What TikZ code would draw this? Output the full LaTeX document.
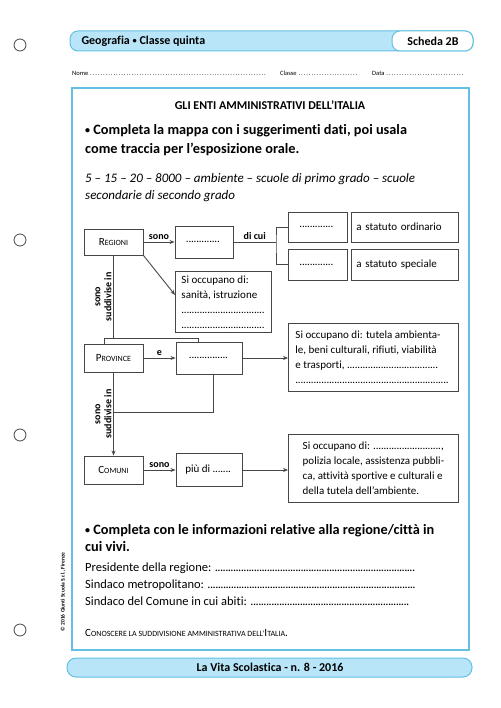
\documentclass[tikz,border=0pt]{standalone}
\usepackage{fontspec}
\setmainfont{Carlito}[Ligatures = NoCommon]
\usetikzlibrary{arrows.meta}

\definecolor{bordo}{RGB}{100,192,226}
\definecolor{fascia}{RGB}{184,229,248}
\definecolor{linea}{RGB}{70,70,70}

\newcommand\puntini[1]{\makebox[#1]{\leaders\hbox to 2.6pt{\hss.\hss}\hfill}}
\newcommand\pallino{\raisebox{0.1ex}{\scalebox{0.7}{•}}}

\tikzset{
	box/.style = {draw = linea, line width = 0.9pt, inner xsep = 5pt, inner ysep = 0pt, minimum height = 28pt},
	testo/.style = {box, align = left, font = \fontsize{11}{15}\selectfont},
	freccia/.style = {-{Stealth[length = 5pt, width = 4pt]}, draw = linea, line width = 0.9pt},
	filo/.style = {draw = linea, line width = 0.9pt},
	etichetta/.style = {font = \fontsize{10}{11}\selectfont\bfseries, inner sep = 1.5pt}
}

\begin{document}
\begin{tikzpicture}[x = 1pt, y = -1pt, font = \fontsize{11}{13}\selectfont]

\useasboundingbox (0,0) rectangle (500,708);

\foreach \y in {45, 240, 435, 630} {
	\draw[linea, line width = 0.8pt] (20,\y) circle (6pt);
}

% testata
\draw[bordo, fill = fascia, line width = 1pt, rounded corners = 8pt] (70,31) rectangle (473,51);
\draw[bordo, fill = white, line width = 1pt, rounded corners = 8pt] (392,31) rectangle (473,51);
\node[anchor = west, font = \fontsize{12}{14}\selectfont\bfseries] (materia) at (78,41) {Geografia \pallino{} Classe quinta};
\node[font = \fontsize{12}{14}\selectfont\bfseries] (scheda) at (433,41) {Scheda 2B};

\node[anchor = west, inner sep = 0pt, font = \fontsize{6.5}{7}\selectfont] (nome) at (72,73) {Nome \puntini{178pt}};
\node[anchor = west, inner sep = 0pt, font = \fontsize{6.5}{7}\selectfont] (classe) at (280,73) {Classe \puntini{60pt}};
\node[anchor = west, inner sep = 0pt, font = \fontsize{6.5}{7}\selectfont] (data) at (372,73) {Data \puntini{80pt}};

\draw[bordo, line width = 1.3pt] (72,88) rectangle (469,650);

\node[font = \fontsize{12}{14}\selectfont\bfseries] (titolo) at (270,105) {GLI ENTI AMMINISTRATIVI DELL’ITALIA};
\node[anchor = north west, align = left, inner sep = 0pt, font = \fontsize{14.3}{19}\selectfont\bfseries] (consegna) at (85,124)
	{\pallino{} Completa la mappa con i suggerimenti dati, poi usala\\come traccia per l’esposizione orale.};
\node[anchor = north west, align = left, inner sep = 0pt, font = \fontsize{13}{17}\selectfont\itshape] (suggerimenti) at (85,173)
	{5 – 15 – 20 – 8000 – ambiente – scuole di primo grado – scuole\\secondarie di secondo grado};

% mappa
\node[box, minimum width = 59pt, minimum height = 26pt] (regioni) at (113.5,242) {R{\footnotesize EGIONI}};
\node[box, minimum width = 58pt, minimum height = 32pt] (numero) at (204,242) {\puntini{36pt}};
\node[box, minimum width = 59pt, minimum height = 30pt] (ordinarie) at (317.5,227) {\puntini{36pt}};
\node[box, minimum width = 59pt, minimum height = 31pt] (speciali) at (317.5,264.5) {\puntini{36pt}};
\node[box, anchor = west, align = left, text width = 97pt, minimum height = 30pt] (statord) at (351,227) {a statuto ordinario};
\node[box, anchor = west, align = left, text width = 97pt, minimum height = 31pt] (statspec) at (351,264.5) {a statuto speciale};
\node[testo, anchor = north west, minimum width = 96pt, minimum height = 61pt] (compreg) at (175,271)
	{Si occupano di:\\sanità, istruzione\\\puntini{84pt}\\\puntini{84pt}};

\node[box, minimum width = 59pt] (province) at (113.5,358) {P{\footnotesize ROVINCE}};
\node[box, minimum width = 66pt, minimum height = 32pt] (provnumero) at (209,358) {\puntini{40pt}};
\node[testo, anchor = north west, minimum width = 170pt, minimum height = 68pt] (compprov) at (288,323)
	{Si occupano di: tutela ambienta-\\le, beni culturali, rifiuti, viabilità\\e trasporti, \puntini{92pt}\\\puntini{156pt}};

\node[box, minimum width = 59pt] (comuni) at (113.5,470) {C{\footnotesize OMUNI}};
\node[box, minimum width = 66pt, minimum height = 33pt] (piudi) at (209,470) {più di \puntini{20pt}};
\node[testo, anchor = north west, minimum width = 170pt, minimum height = 68pt] (compcom) at (288,434)
	{Si occupano di: \puntini{68pt},\\polizia locale, assistenza pubbli-\\ca, attività sportive e culturali e\\della tutela dell’ambiente.};

\coordinate (ramo) at (276,242);
\coordinate (giunto) at (113.5,338);
\coordinate (innesto) at (113.5,412);

\draw[freccia] (regioni) -- node[etichetta, above] {sono} (numero);
\draw[filo] (numero) -- node[etichetta, above] {di cui} (ramo);
\draw[filo] (ordinarie.west) -| (ramo) |- (speciali.west);
\draw[freccia] (regioni.south east) -- ([yshift = 7pt]compreg.west);

\draw[filo] (regioni.south) -- node[etichetta, rotate = 90, anchor = south, align = center] {sono\\suddivise in} (giunto);
\draw[filo] ([xshift = -9.5pt]province.north) |- ([xshift = -11pt]provnumero.north |- giunto) -- ([xshift = -11pt]provnumero.north);

\draw[freccia] (province) -- node[etichetta, above] {e} (provnumero);
\draw[freccia] (provnumero.east) -- (provnumero.east -| compprov.west);
\draw[freccia] (province.south) -- node[etichetta, rotate = 90, anchor = south, align = center] {sono\\suddivise in} (comuni.north);
\draw[filo] ([xshift = 4pt]provnumero.south) |- (innesto);

\draw[freccia] (comuni) -- node[etichetta, above] {sono} (piudi);
\draw[freccia] (piudi.east) -- (piudi.east -| compcom.west);

% seconda parte
\node[anchor = north west, align = left, inner sep = 0pt, font = \fontsize{14.3}{17}\selectfont\bfseries] (consegnadue) at (85,524)
	{\pallino{} Completa con le informazioni relative alla regione/città in\\cui vivi.};
\node[anchor = north west, align = left, inner sep = 0pt, font = \fontsize{12.5}{17}\selectfont] (righe) at (85,563)
	{Presidente della regione: \puntini{202pt}\\Sindaco metropolitano: \puntini{210pt}\\Sindaco del Comune in cui abiti: \puntini{160pt}};
\node[anchor = west, inner sep = 0pt, font = \fontsize{11}{13}\selectfont] (obiettivo) at (85,633)
	{C{\footnotesize ONOSCERE LA SUDDIVISIONE AMMINISTRATIVA DELL’}I{\footnotesize TALIA}.};

\node[rotate = 90, inner sep = 0pt, font = \fontsize{5.5}{6}\selectfont\bfseries] (copyright) at (63,592) {© 2016 Giunti Scuola S.r.l., Firenze};

% piede
\draw[bordo, fill = fascia, line width = 1pt, rounded corners = 9pt] (67,658) rectangle (472,677);
\node[font = \fontsize{12}{14}\selectfont\bfseries] (rivista) at (270,667.5) {La Vita Scolastica - n. 8 - 2016};

\end{tikzpicture}
\end{document}
